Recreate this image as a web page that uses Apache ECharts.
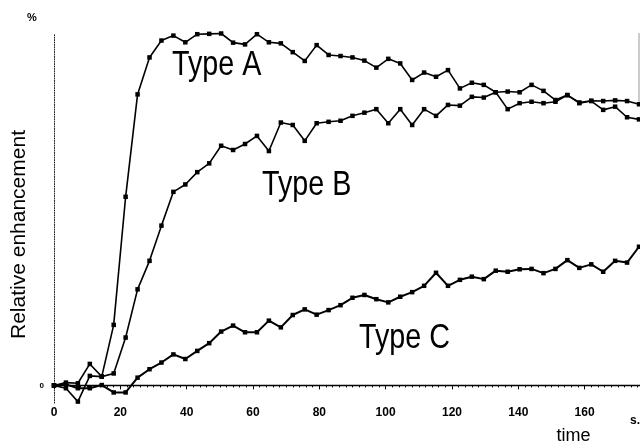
<!DOCTYPE html>
<html>
<head>
<meta charset="utf-8">
<script src="https://cdn.jsdelivr.net/npm/echarts@6/dist/echarts.min.js"></script>
<style>
  html, body { margin: 0; padding: 0; background: #fff; }
  #chart { width: 640px; height: 446px; }
</style>
</head>
<body>
<div id="chart"></div>
<script>
// sampling times (s)
var times = [0, 3.6, 7.2, 10.8, 14.4, 18, 21.6, 25.2, 28.8, 32.4, 36, 39.6, 43.2, 46.8, 50.4, 54, 57.6, 61.2, 64.8, 68.4,
  72, 75.6, 79.2, 82.8, 86.4, 90, 93.6, 97.2, 100.8, 104.4, 108, 111.6, 115.2, 118.8, 122.4, 126, 129.6, 133.2, 136.8, 140.4,
  144, 147.6, 151.2, 154.8, 158.4, 162, 165.6, 169.2, 172.8, 176.4];

// relative enhancement (%)
var typeA = [0, 0.8, 0.6, 6.1, 2.5, 17.2, 53.6, 82.7, 93.2, 98.0, 99.4, 97.5, 99.8, 99.9, 100, 97.4, 96.9, 99.8, 97.5, 97.2,
  94.7, 92.2, 96.7, 93.9, 93.6, 93.2, 92.3, 90.3, 92.8, 91.5, 86.8, 88.9, 87.7, 89.6, 84.4, 86.0, 85.4, 83.3, 78.5, 80.2,
  80.6, 80.2, 80.6, 82.5, 80.2, 80.8, 78.3, 79.2, 76.2, 75.6];
var typeB = [0, -0.8, -4.6, 2.7, 2.5, 3.4, 13.6, 27.3, 35.4, 45.4, 55.0, 57.1, 60.6, 63.1, 68.1, 66.9, 68.6, 70.9, 66.6, 74.7,
  74.0, 69.5, 74.5, 74.9, 75.2, 76.6, 77.5, 78.5, 74.5, 78.5, 74.0, 78.5, 76.6, 79.7, 79.5, 82.0, 81.8, 83.3, 83.5, 83.3,
  85.4, 83.7, 81.1, 82.5, 80.4, 80.9, 80.8, 81.0, 80.8, 79.9];
var typeC = [0, 0.3, -0.8, -0.8, 0.1, -2.0, -2.0, 2.2, 4.6, 6.5, 8.8, 7.5, 9.8, 12.0, 15.3, 17.0, 15.1, 15.1, 18.4, 16.5,
  20.0, 21.6, 20.1, 21.4, 22.8, 24.9, 25.7, 24.5, 23.6, 25.2, 26.5, 28.3, 32.0, 28.3, 30.0, 30.9, 30.2, 32.6, 32.3, 33.0,
  33.1, 31.9, 33.1, 35.6, 33.4, 34.4, 32.3, 35.4, 34.9, 39.4];

var seriesNames = ['Type A', 'Type B', 'Type C'];

var pairs = function (vals) {
  return vals.map(function (v, i) { return [times[i], v]; });
};

var chart = echarts.init(document.getElementById('chart'));

var lineSeries = function (name, vals, width, size) {
  return {
    name: name,
    type: 'line',
    data: pairs(vals),
    symbol: 'rect',
    symbolSize: size,
    showAllSymbol: true,
    clip: false,
    lineStyle: {color: '#000', width: width},
    itemStyle: {color: '#000'}
  };
};

// the labels in the scan are a narrow sans, squeeze a normal one
var typeLabel = function (text, x, y) {
  return {
    type: 'text', x: x, y: y, scaleX: 0.82,
    style: {text: text, font: '35px "Liberation Sans", Arial, sans-serif', fill: '#000', textVerticalAlign: 'middle'}
  };
};

chart.setOption({
  animation: false,
  backgroundColor: '#fff',
  grid: {left: 54, right: 0, top: 33.5, bottom: 43},
  xAxis: {
    type: 'value',
    min: 0,
    max: 176.7,
    interval: 20,
    axisLine: {lineStyle: {color: '#000', width: 1.4}},
    axisTick: {show: true, length: 4, lineStyle: {color: '#000'}},
    minorTick: {show: true, splitNumber: 10, length: 2, lineStyle: {color: '#000'}},
    axisLabel: {
      color: '#000', fontSize: 12, fontWeight: 'bold', margin: 4,
      fontFamily: '"Liberation Sans", Arial, sans-serif',
      showMaxLabel: false
    },
    splitLine: {show: false}
  },
  yAxis: {
    type: 'value',
    min: -5,
    max: 100,
    interval: 5,
    axisLine: {lineStyle: {color: '#222', width: 1, type: [1, 1.4]}},
    axisTick: {show: false},
    axisLabel: {
      color: '#000', fontSize: 8, fontWeight: 'bold', margin: 10,
      padding: [0, 0, 6, 0],
      fontFamily: '"Liberation Sans", Arial, sans-serif',
      formatter: function (v) { return v === 0 ? '0' : ''; }
    },
    splitLine: {show: false}
  },
  series: [
    lineSeries(seriesNames[0], typeA, 1.6, 4.5),
    lineSeries(seriesNames[1], typeB, 1.6, 4.5),
    lineSeries(seriesNames[2], typeC, 2, 4.5)
  ],
  graphic: [
    typeLabel(seriesNames[0], 172, 65),
    typeLabel(seriesNames[1], 262, 185),
    typeLabel(seriesNames[2], 359, 338),
    {type: 'text', x: 19.5, y: 234.5, rotation: Math.PI / 2,
      style: {text: 'Relative enhancement', font: '21px "Liberation Sans", Arial, sans-serif', fill: '#000', textAlign: 'center', textVerticalAlign: 'middle'}},
    {type: 'text', x: 573.5, y: 436, style: {text: 'time', font: '18px "Liberation Sans", Arial, sans-serif', fill: '#000', textAlign: 'center', textVerticalAlign: 'middle'}},
    {type: 'text', x: 32, y: 17.5, style: {text: '%', font: 'bold 11px "Liberation Sans", Arial, sans-serif', fill: '#000', textAlign: 'center', textVerticalAlign: 'middle'}},
    {type: 'text', x: 630, y: 421, style: {text: 's.', font: 'bold 12px "Liberation Sans", Arial, sans-serif', fill: '#000', textVerticalAlign: 'middle'}},
    {type: 'line', shape: {x1: 639, y1: 33, x2: 639, y2: 103}, style: {stroke: '#999', lineWidth: 1}}
  ]
});
</script>
</body>
</html>
